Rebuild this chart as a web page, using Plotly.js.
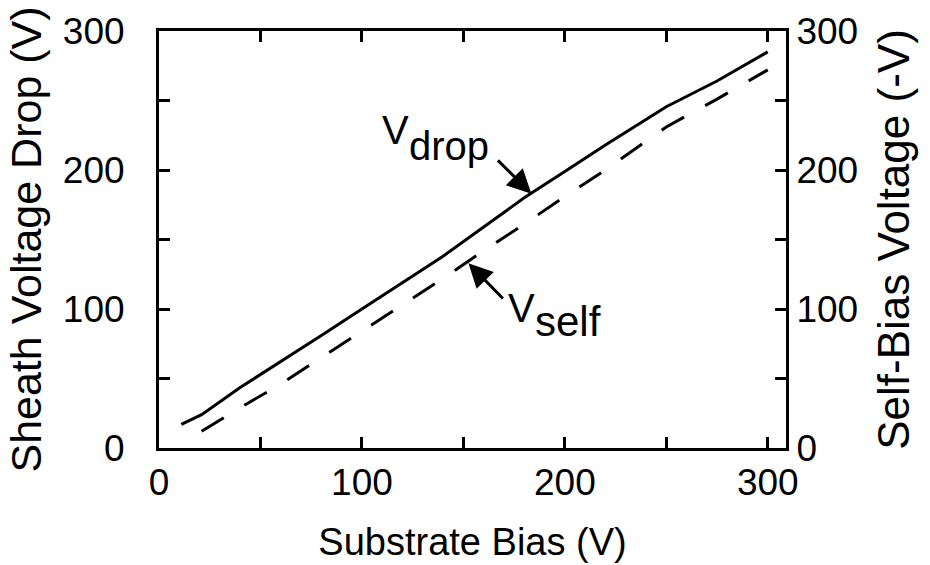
<!DOCTYPE html>
<html>
<head>
<meta charset="utf-8">
<script src="https://cdn.plot.ly/plotly-3.0.1.min.js"></script>
<style>html,body{margin:0;padding:0;background:#fff;}#chart{width:930px;height:565px;}</style>
</head>
<body>
<div id="chart"></div>
<script>
// Substrate bias (V) and sheath voltage drop (V) -- solid line
const biasDrop = [11, 21, 40, 60, 80, 100, 120, 140, 160, 180, 200, 220, 250, 275, 300];
const vDrop    = [17, 24, 43.5, 62, 81, 100, 119, 138, 159, 180, 199, 218, 245.5, 264, 285];
// Substrate bias (V) and self-bias voltage (-V) -- dashed line
const biasSelf = [21, 40, 60, 80, 100, 120, 140, 160, 180, 200, 220, 250, 275, 300];
const vSelf    = [12, 29, 46, 65, 84, 103, 122, 142, 161, 181, 200, 231, 251, 272];
// Tick values and labels
const tickVals = [0, 50, 100, 150, 200, 250, 300];
const tickText = ['0', '', '100', '', '200', '', '300'];

const FONT = 'Liberation Sans, Arial, sans-serif';
const tickFont = {family: FONT, size: 37, color: '#000'};

const traces = [
  {x: biasDrop, y: vDrop, type: 'scatter', mode: 'lines', name: 'Vdrop',
   line: {color: '#000', width: 3}, yaxis: 'y'},
  {x: biasSelf, y: vSelf, type: 'scatter', mode: 'lines', name: 'Vself',
   line: {color: '#000', width: 3, dash: '26px,24px'}, yaxis: 'y2'}
];

const axisCommon = {
  tickmode: 'array', tickvals: tickVals, ticktext: tickText,
  ticks: 'inside', ticklen: 11, tickwidth: 3, tickcolor: '#000',
  showline: true, linewidth: 3, linecolor: '#000',
  showgrid: false, zeroline: false, tickfont: tickFont
};

const annFont = {family: FONT, size: 40, color: '#000'};

const layout = {
  width: 930, height: 565,
  margin: {l: 159, r: 144, t: 31, b: 117, pad: 0},
  paper_bgcolor: '#fff', plot_bgcolor: '#fff',
  showlegend: false,
  xaxis: Object.assign({}, axisCommon, {
    range: [0, 309], mirror: 'ticks',
    title: {text: 'Substrate Bias (V)', font: {family: FONT, size: 38, color: '#000'}, standoff: 26}
  }),
  yaxis: Object.assign({}, axisCommon, {
    range: [0, 300], ticklabelstandoff: 24,
    title: {text: 'Sheath Voltage Drop (V)', font: {family: FONT, size: 43, color: '#000'}, standoff: 8}
  }),
  yaxis2: Object.assign({}, axisCommon, {
    range: [0, 300], overlaying: 'y', side: 'right',
    title: {text: 'Self-Bias Voltage (-V)', font: {family: FONT, size: 44, color: '#000'}, standoff: 22}
  }),
  annotations: [
    {xref: 'x', yref: 'y', x: 109, y: 229, xanchor: 'left', yanchor: 'middle',
     text: 'V', showarrow: false, font: annFont},
    {xref: 'x', yref: 'y', x: 122, y: 217, xanchor: 'left', yanchor: 'middle',
     text: 'drop', showarrow: false, font: annFont},
    {xref: 'x', yref: 'y', x: 183.5, y: 183, axref: 'x', ayref: 'y', ax: 166.3, ay: 208,
     text: '', showarrow: true, arrowhead: 2, arrowsize: 1.6, arrowwidth: 3, arrowcolor: '#000'},
    {xref: 'x', yref: 'y', x: 171, y: 100.5, xanchor: 'left', yanchor: 'middle',
     text: 'V', showarrow: false, font: annFont},
    {xref: 'x', yref: 'y', x: 184.5, y: 91, xanchor: 'left', yanchor: 'middle',
     text: 'self', showarrow: false, font: {family: FONT, size: 42, color: '#000'}},
    {xref: 'x', yref: 'y', x: 152.5, y: 133, axref: 'x', ayref: 'y', ax: 170.2, ay: 106.5,
     text: '', showarrow: true, arrowhead: 2, arrowsize: 1.6, arrowwidth: 3, arrowcolor: '#000'}
  ]
};

Plotly.newPlot('chart', traces, layout, {displayModeBar: false, staticPlot: true});
</script>
</body>
</html>
